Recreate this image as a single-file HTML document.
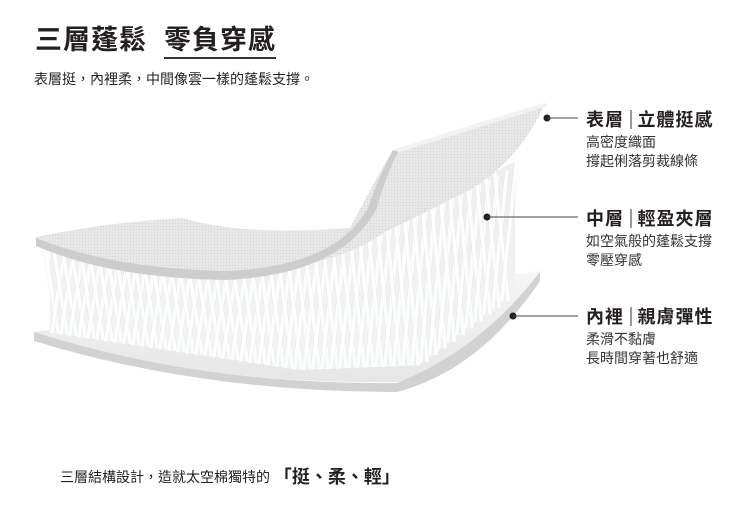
<!DOCTYPE html>
<html><head><meta charset="utf-8"><style>
html,body{margin:0;padding:0;background:#fff;width:750px;height:517px;overflow:hidden;position:relative;font-family:"Liberation Sans","Noto Sans CJK TC",sans-serif;color:#231f20}
.a{position:absolute;white-space:nowrap}
.h{font-size:18px;font-weight:bold;letter-spacing:1px}
.h i{display:inline-block;width:1.5px;height:19px;background:#999;margin:0 6px;vertical-align:-3px}
.s{font-size:14px;line-height:19px;color:#333}
</style></head><body>
<div class="a" style="left:35px;top:18px;font-size:27px;font-weight:bold;letter-spacing:1px">三層蓬鬆&nbsp;&nbsp;<span style="border-bottom:2px solid #333;padding-bottom:2px">零負穿感</span></div>
<div class="a" style="left:34px;top:69px;font-size:14px">表層挺，內裡柔，中間像雲一樣的蓬鬆支撐。</div>
<svg class="a" style="left:0;top:0" width="750" height="517" id="sv">
<defs><pattern id="dt" width="3" height="3" patternUnits="userSpaceOnUse"><rect width="3" height="3" fill="#e8e8e8"/><circle cx="1.5" cy="1.5" r="0.7" fill="#d6d6d6"/></pattern>
<linearGradient id="bs" x1="0" y1="0" x2="0" y2="1"><stop offset="0" stop-color="#f6f6f6"/><stop offset="1" stop-color="#e6e6e6"/></linearGradient>
<linearGradient id="fb" x1="0" y1="0" x2="0" y2="1"><stop offset="0" stop-color="#eeeeee"/><stop offset="1" stop-color="#f4f4f4"/></linearGradient></defs>
<!-- bottom sheet -->
<path d="M34,332 Q200,310 540,271 L540,280 Q480,360 397,382 Q200,385 34,333 Z" fill="url(#bs)"/>
<path d="M34,332 L34,341 Q200,392 397,392 Q480,370 540,281 L540,272 Q480,350 397,383 Q200,385 34,332 Z" fill="#d2d2d2"/>
<g id="fib"></g>
<!-- top sheet -->
<path d="M36,237 Q110,222 183,218 Q240,236 350,228 Q375,180 393,150 Q470,125 545,103 Q520,160 470,190 Q420,215 385,232 Q330,272 220,272 Q110,268 36,240 Z" fill="url(#dt)"/>
<path d="M36,238 L36,246 Q110,278 225,280 Q340,275 376,210 Q386,175 398,152 L393,150 Q378,178 368,208 Q335,268 222,271 Q110,268 36,238 Z" fill="#cdcdcd"/>
<path d="M393,150 Q470,125 545,103 L548,106 Q470,130 400,152 Z" fill="#f2f2f2"/>
<g fill="#231f20"><circle cx="547" cy="118" r="3.5"/><circle cx="487" cy="217" r="3.5"/><circle cx="513" cy="316" r="3.5"/></g>
<g stroke="#444" stroke-width="1"><line x1="547" y1="118" x2="578" y2="118"/><line x1="487" y1="217" x2="578" y2="217"/><line x1="513" y1="316" x2="578" y2="316"/></g>
</svg>
<div class="a h" style="left:586px;top:106px">表層<i></i>立體挺感</div>
<div class="a s" style="left:586px;top:133px">高密度織面<br>撐起俐落剪裁線條</div>
<div class="a h" style="left:586px;top:205px">中層<i></i>輕盈夾層</div>
<div class="a s" style="left:586px;top:232px">如空氣般的蓬鬆支撐<br>零壓穿感</div>
<div class="a h" style="left:586px;top:303px">內裡<i></i>親膚彈性</div>
<div class="a s" style="left:586px;top:330px">柔滑不黏膚<br>長時間穿著也舒適</div>
<div class="a" style="left:60px;top:463px;font-size:14px">三層結構設計，造就太空棉獨特的 <b style="font-size:18px;vertical-align:-1px">「挺、柔、輕」</b></div>
<script>
var g=document.getElementById('fib'),s='';
function topY(x){if(x<230)return 240+(x-36)*0.15;if(x<370)return 269-(x-230)*0.25;return 234-(x-370)*0.5;}
function frontY(x){if(x<300)return 340+(x-34)*0.15;if(x<420)return 380-(x-300)*0.04;return 375-(x-420)*0.75;}
var bg='M50,'+topY(50);
for(var x=50;x<=515;x+=5)bg+=' L'+x+','+topY(x);
for(var x=515;x>=50;x-=5)bg+=' L'+x+','+(frontY(x)-10);
s+='<path d="'+bg+'Z" fill="url(#fb)"/>';
for(var x=55;x<512;x+=9){
 var t=topY(x),b=frontY(x)-10;
 for(var k=0;k<2;k++){var d=(k?1:-1)*(11+(x*7%7));
 s+='<line x1="'+(x+d)+'" y1="'+t+'" x2="'+(x-d*0.3)+'" y2="'+b+'" stroke="#dde1e5" stroke-width="5" opacity="0.35"/>';
 s+='<line x1="'+(x+d)+'" y1="'+t+'" x2="'+(x-d*0.3)+'" y2="'+b+'" stroke="#fff" stroke-width="3.5" opacity="0.95"/>';}
}
g.innerHTML=s;
</script>
</body></html>
